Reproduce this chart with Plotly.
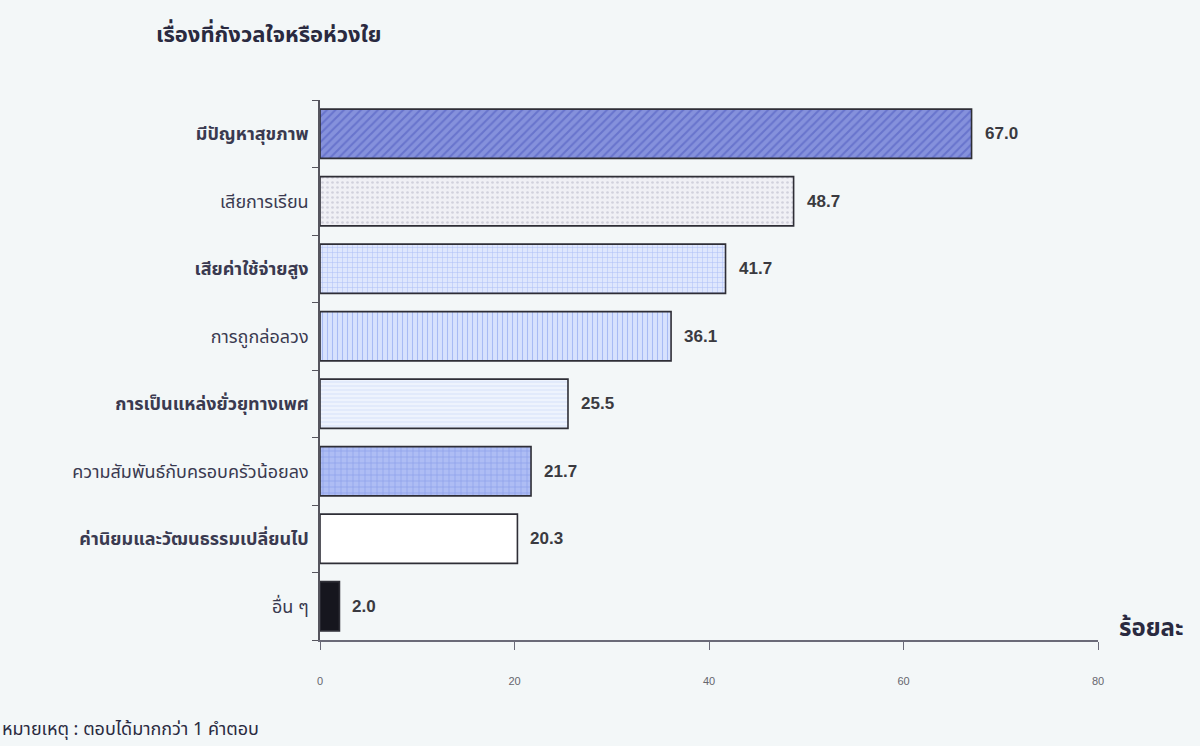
import plotly.graph_objects as go

categories = [
    "มีปัญหาสุขภาพ",
    "เสียการเรียน",
    "เสียค่าใช้จ่ายสูง",
    "การถูกล่อลวง",
    "การเป็นแหล่งยั่วยุทางเพศ",
    "ความสัมพันธ์กับครอบครัวน้อยลง",
    "ค่านิยมและวัฒนธรรมเปลี่ยนไป",
    "อื่น ๆ",
]
values = [67.0, 48.7, 41.7, 36.1, 25.5, 21.7, 20.3, 2.0]
x_ticks = [0, 20, 40, 60, 80]

fill_colors = ["#8591dc", "#f0f0f5", "#dfe7fd", "#d8e2fd", "#eef3fd", "#aebdf4", "#ffffff", "#16161e"]
pattern_fg = ["#4b57bd", "#b2b2c4", "#7f9aee", "#7893ec", "#b4c6f4", "#6883e2", "#ffffff", "#16161e"]
pattern_shapes = ["/", ".", "+", "|", "-", "+", "", ""]
pattern_size = [6, 5, 5, 5, 4, 6, 8, 8]
pattern_solidity = [0.35, 0.22, 0.2, 0.22, 0.22, 0.22, 0.3, 0.3]
label_bold = [True, False, True, False, True, False, True, False]

font_thai = "Noto Sans Thai, Tahoma, Loma, Garuda, sans-serif"

tick_text = [f"<b>{c}</b>" if b else c for c, b in zip(categories, label_bold)]

fig = go.Figure()
for i, (c, v) in enumerate(zip(categories, values)):
    fig.add_trace(go.Bar(
        y=[c],
        x=[v],
        orientation="h",
        width=0.73,
        marker=dict(
            color=fill_colors[i],
            line=dict(color="#2e2e36", width=1.6),
            pattern=dict(shape=pattern_shapes[i], fgcolor=pattern_fg[i],
                         size=pattern_size[i], solidity=pattern_solidity[i],
                         fillmode="overlay"),
        ),
        hoverinfo="x+y",
    ))
    fig.add_annotation(x=v, y=c, text=f"<b>{v:.1f}</b>", xanchor="left", yanchor="middle",
                       xshift=11, showarrow=False,
                       font=dict(family="Liberation Sans, Arial", size=17, color="#3a3a40"))

fig.update_layout(
    width=1200, height=746,
    margin=dict(l=320, r=102, t=100, b=106),
    paper_bgcolor="#f3f7f8",
    plot_bgcolor="#f3f7f8",
    showlegend=False,
    barmode="overlay",
    xaxis=dict(
        range=[0, 80], tickvals=x_ticks, ticktext=[str(t) for t in x_ticks],
        showgrid=False, zeroline=False, showline=True, linecolor="#6a6a78", linewidth=1.5,
        ticks="outside", ticklen=8, tickcolor="#6a6a78", ticklabelstandoff=22,
        tickfont=dict(family="Liberation Sans, Arial", size=11, color="#66666e"),
    ),
    yaxis=dict(
        categoryorder="array", categoryarray=categories, autorange="reversed",
        tickmode="array", tickvals=categories, ticktext=tick_text,
        tickson="boundaries", ticks="outside", ticklen=6, tickcolor="#55555e",
        showline=True, linecolor="#55555e", linewidth=1.5, showgrid=False,
        ticklabelstandoff=6,
        tickfont=dict(family=font_thai, size=18, color="#3a3a50"),
    ),
)

fig.add_annotation(xref="paper", yref="paper", x=-0.213, y=1.12, xanchor="left", yanchor="middle",
                   text="<b>เรื่องที่กังวลใจหรือห่วงใย</b>", showarrow=False,
                   font=dict(family=font_thai, size=22, color="#2a2a40"))
fig.add_annotation(xref="paper", yref="paper", x=1.025, y=0.02, xanchor="left", yanchor="middle",
                   text="<b>ร้อยละ</b>", showarrow=False,
                   font=dict(family=font_thai, size=24, color="#2a2a40"))
fig.add_annotation(xref="paper", yref="paper", x=-0.411, y=-0.165, xanchor="left", yanchor="middle",
                   text="หมายเหตุ : ตอบได้มากกว่า 1 คำตอบ", showarrow=False,
                   font=dict(family=font_thai, size=18, color="#2a2a40"))

fig.write_html("out.html")
